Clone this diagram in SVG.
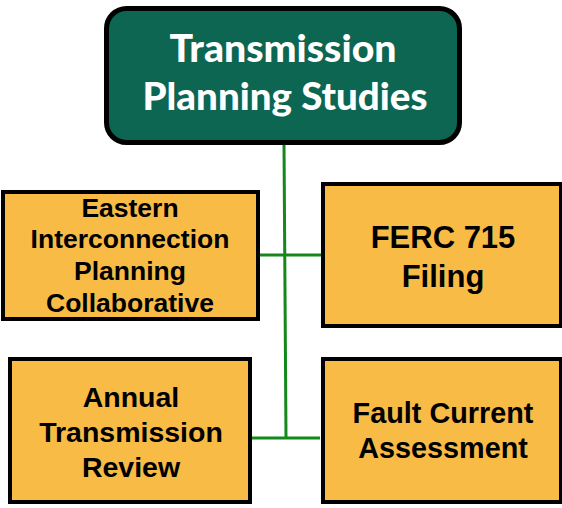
<svg xmlns="http://www.w3.org/2000/svg" width="562" height="508" viewBox="0 0 562 508">
<style>
.box{fill:#F7BB46;stroke:#000;stroke-width:4}
.top{fill:#0C6651;stroke:#000;stroke-width:5}
.lbl{font-family:"Liberation Sans",Arial,sans-serif;font-weight:bold;fill:#000;text-anchor:middle}
.ttl{font-family:Lato,"Open Sans",sans-serif;font-weight:900;fill:#fff;text-anchor:middle;font-size:38px}
.conn{stroke:#14881A;stroke-width:3;fill:none}
</style>
<rect width="562" height="508" fill="#fff"/>
<g id="connectors">
<path class="conn" d="M284 144 L286 438"/>
<path class="conn" d="M258 255 L322 255"/>
<path class="conn" d="M247 438 L320 438"/>
</g>
<g id="top">
<rect class="top" x="106.5" y="8.5" width="353" height="134" rx="20"/>
<text class="ttl" x="283" y="62" textLength="227" lengthAdjust="spacingAndGlyphs">Transmission</text>
<text class="ttl" x="285" y="110" textLength="285" lengthAdjust="spacingAndGlyphs">Planning Studies</text>
</g>
<g id="eipc">
<rect class="box" x="3" y="192" width="255" height="127"/>
<text class="lbl" font-size="26.5" x="130" y="217">Eastern</text>
<text class="lbl" font-size="26.5" x="130" y="248">Interconnection</text>
<text class="lbl" font-size="26.5" x="130" y="280">Planning</text>
<text class="lbl" font-size="26.5" x="130" y="312">Collaborative</text>
</g>
<g id="ferc">
<rect class="box" x="323" y="184" width="238" height="142"/>
<text class="lbl" font-size="31" x="443" y="248">FERC 715</text>
<text class="lbl" font-size="31" x="443" y="287">Filing</text>
</g>
<g id="atr">
<rect class="box" x="10" y="359" width="240" height="143"/>
<text class="lbl" font-size="28.5" x="131" y="407">Annual</text>
<text class="lbl" font-size="28.5" x="131" y="442">Transmission</text>
<text class="lbl" font-size="28.5" x="131" y="477">Review</text>
</g>
<g id="fca">
<rect class="box" x="323" y="359" width="238" height="143"/>
<text class="lbl" font-size="28.8" x="443" y="423">Fault Current</text>
<text class="lbl" font-size="28.8" x="443" y="458">Assessment</text>
</g>
</svg>
